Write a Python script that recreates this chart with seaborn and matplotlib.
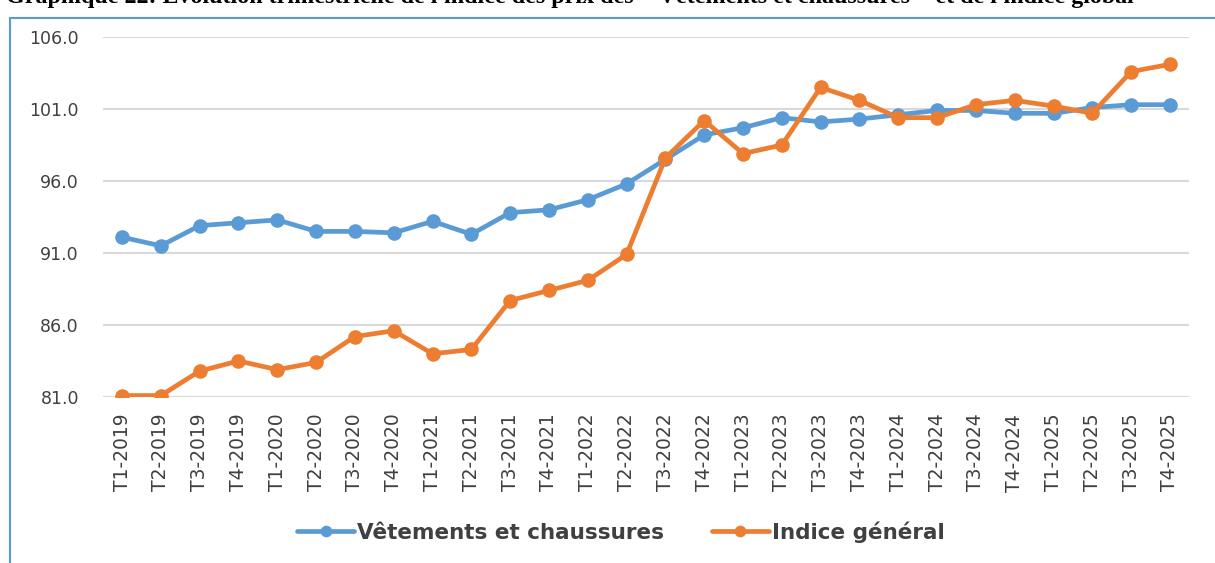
import numpy as np
import pandas as pd
import matplotlib
matplotlib.use("Agg")
import matplotlib.pyplot as plt
from matplotlib.patches import Rectangle
import seaborn as sns

# Trimestres
quarters = [f"T{q}-{y}" for y in range(2019, 2026) for q in range(1, 5)]

# Indices
vetements = [92.1, 91.5, 92.9, 93.1, 93.3, 92.5, 92.5, 92.4, 93.2, 92.3,
             93.8, 94.0, 94.7, 95.8, 97.5, 99.2, 99.7, 100.4, 100.1, 100.3,
             100.6, 100.9, 100.9, 100.7, 100.7, 101.1, 101.3, 101.3]
general = [81.1, 81.1, 82.8, 83.5, 82.9, 83.4, 85.2, 85.6, 84.0, 84.3,
           87.7, 88.4, 89.1, 90.9, 97.6, 100.2, 97.9, 98.5, 102.5, 101.6,
           100.4, 100.4, 101.3, 101.6, 101.2, 100.7, 103.6, 104.1]

y_ticks = [81.0, 86.0, 91.0, 96.0, 101.0, 106.0]

df = pd.DataFrame({
    "pos": list(range(len(quarters))) * 2,
    "valeur": vetements + general,
    "serie": ["Vêtements et chaussures"] * len(quarters) + ["Indice général"] * len(quarters),
})

sns.set_style("white")
plt.rcParams["font.family"] = ["DejaVu Sans"]

fig = plt.figure(figsize=(12.15, 5.63), dpi=100)
ax = fig.add_axes([102.6 / 1215, 1 - 397 / 563, (1189.4 - 102.6) / 1215, 360 / 563])

sns.lineplot(data=df, x="pos", y="valeur", hue="serie",
             palette=["#5B9BD5", "#ED7D31"], linewidth=3.4,
             marker="o", markersize=10.5, markeredgewidth=0, ax=ax)

ax.set_xlim(-0.5, len(quarters) - 0.5)
ax.set_ylim(81, 106)
ax.set_yticks(y_ticks)
ax.set_yticklabels([f"{v:.1f}" for v in y_ticks], fontsize=12.5, color="#404040")
ax.set_xticks(range(len(quarters)))
ax.set_xticklabels(quarters, rotation=90, fontsize=13.5, color="#404040")
ax.tick_params(axis="x", length=0, pad=12)
ax.tick_params(axis="y", length=0, pad=17)
ax.grid(axis="y", color="#d9d9d9", linewidth=1.5)
ax.set_axisbelow(True)
for s in ax.spines.values():
    s.set_visible(False)
ax.set_xlabel("")
ax.set_ylabel("")

leg = ax.legend(loc="center", bbox_to_anchor=(0.511, 1 - 532 / 563), bbox_transform=fig.transFigure,
                ncol=2, frameon=False, handlelength=2.65, handletextpad=0.15, columnspacing=2.2,
                markerscale=0.8, prop={"weight": "bold", "size": 15.5})
for t in leg.get_texts():
    t.set_color("#404040")

# cadre bleu
fig.patches.append(Rectangle((10 / 1215, -0.01), 1.2, 1 - 18 / 563 + 0.01,
                             transform=fig.transFigure, fill=False,
                             edgecolor="#5B9BD5", linewidth=1.5))

fig.text(0.469, 1 + 3 / 563, "Graphique 22: Evolution trimestrielle de l'indice des prix des \" Vêtements et chaussures \" et de l'indice global",
         ha="center", va="center", fontsize=17.3, fontweight="bold",
         family=["Liberation Serif"], color="black")

fig.savefig("out.png", dpi=100)
